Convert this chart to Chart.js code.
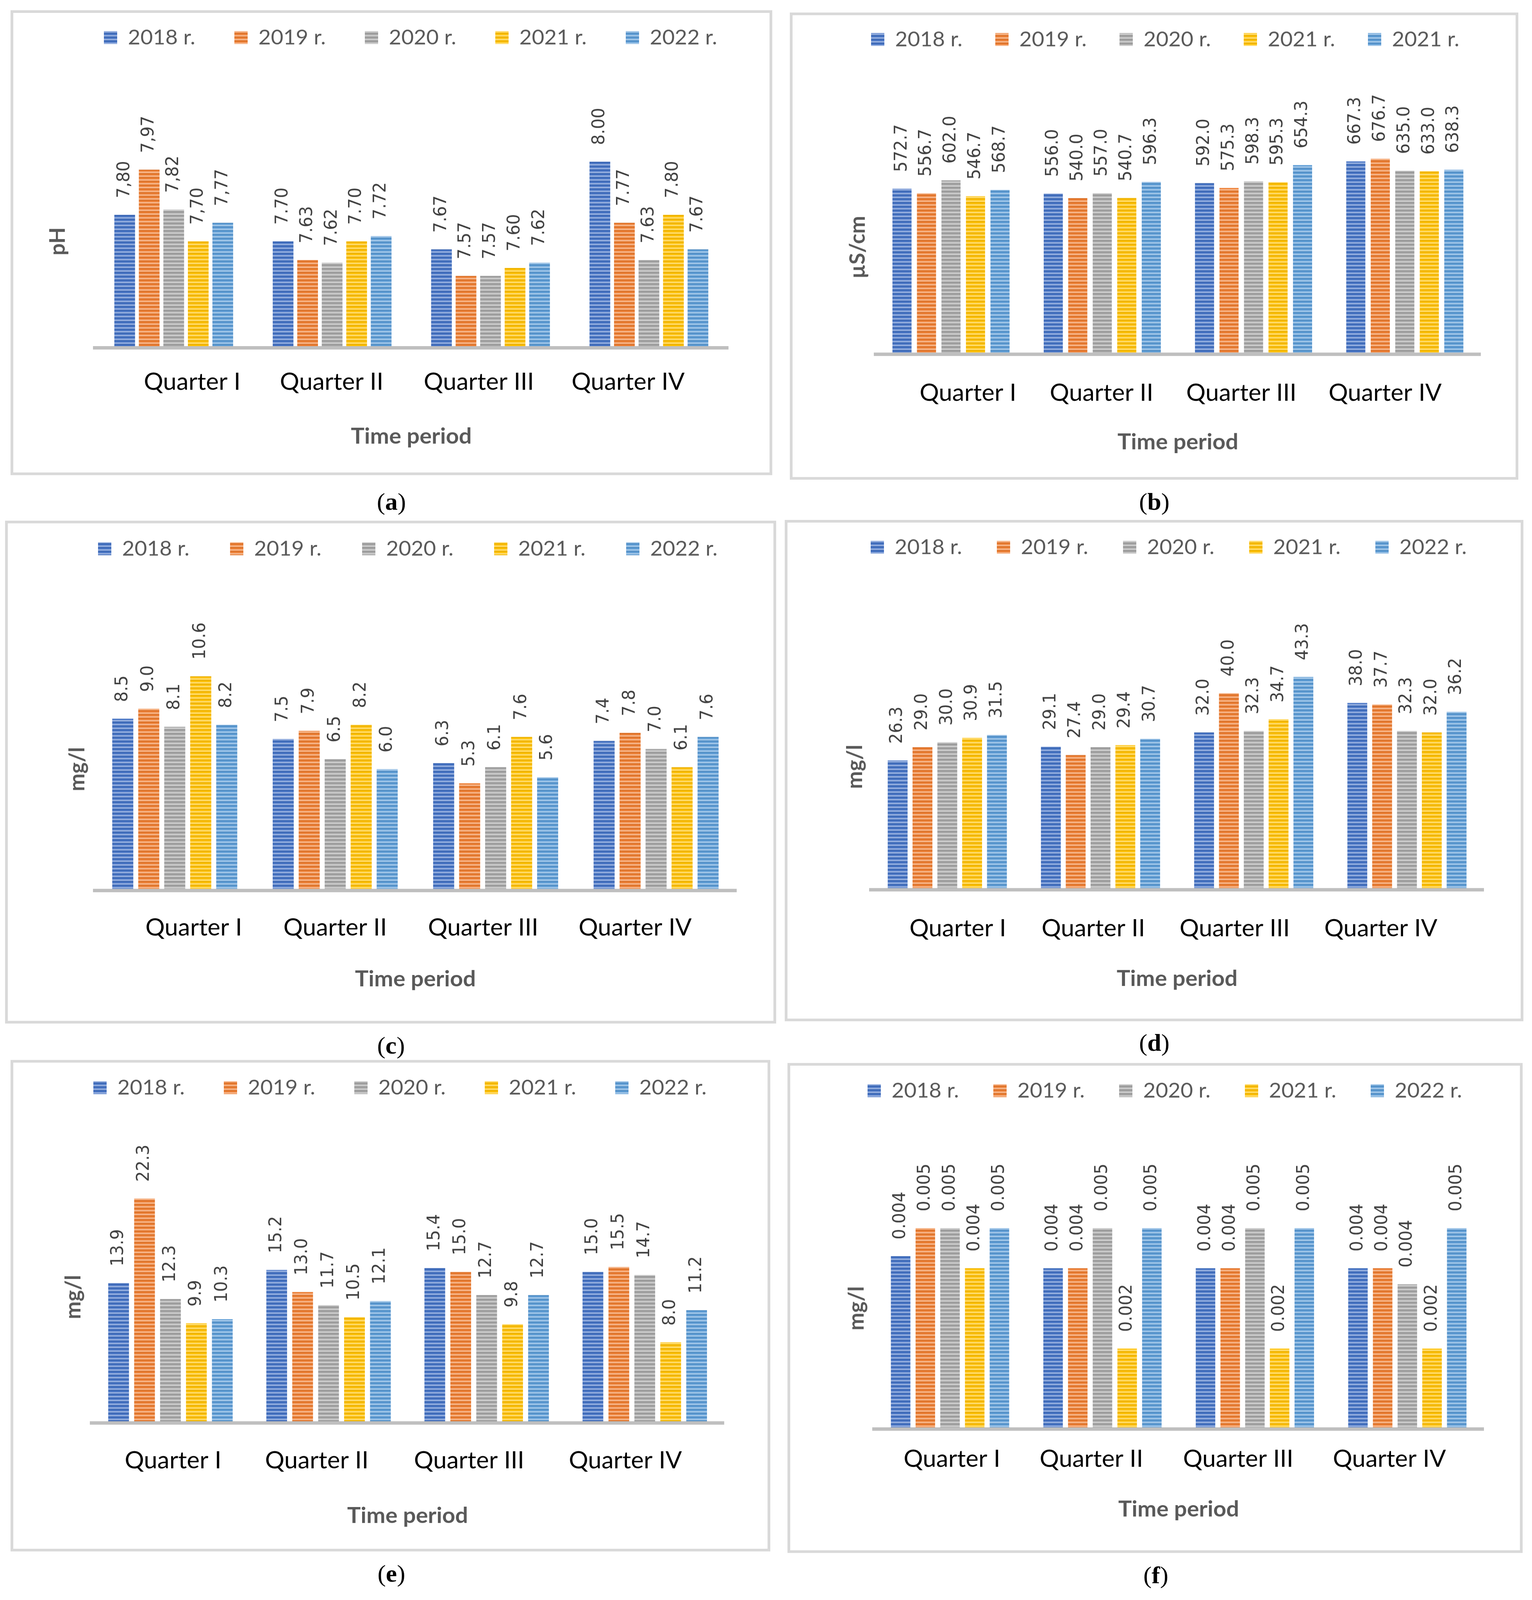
<!DOCTYPE html>
<html>
<head>
<meta charset="utf-8">
<script src="https://cdn.jsdelivr.net/npm/chart.js@4.4.1/dist/chart.umd.min.js"></script>
<style>
  html, body { margin: 0; padding: 0; background: #fff; overflow: hidden; }
  #page { position: relative; width: 3922px; height: 4216px; overflow: hidden; transform-origin: 0 0; }
  .box { position: absolute; box-sizing: border-box; border: 7px solid #d9d9d9; }
  canvas { position: absolute; }
  .cap { position: absolute; font-family: 'Liberation Serif', 'DejaVu Serif', serif; font-size: 64px;
         color: #000; transform: translate(-50%, -50%); white-space: nowrap; }
</style>
</head>
<body>
<div id="page"></div>
<script>
// categories and legend labels
const quarters = ['Quarter I', 'Quarter II', 'Quarter III', 'Quarter IV'];
const years = ['2018 r.', '2019 r.', '2020 r.', '2021 r.', '2022 r.'];
const yearsEC = ['2018 r.', '2019 r.', '2020 r.', '2021 r.', '2021 r.'];

// (a) pH
const pH2018 = [7.80, 7.70, 7.67, 8.00];
const pH2019 = [7.97, 7.63, 7.57, 7.77];
const pH2020 = [7.82, 7.62, 7.57, 7.63];
const pH2021 = [7.70, 7.70, 7.60, 7.80];
const pH2022 = [7.77, 7.72, 7.62, 7.67];
const pHDecimalMark = [',', '.', '.', '.'];

// (b) conductivity, µS/cm
const ec2018 = [572.7, 556.0, 592.0, 667.3];
const ec2019 = [556.7, 540.0, 575.3, 676.7];
const ec2020 = [602.0, 557.0, 598.3, 635.0];
const ec2021 = [546.7, 540.7, 595.3, 633.0];
const ec2022 = [568.7, 596.3, 654.3, 638.3];

// (c) mg/l
const c2018 = [8.5, 7.5, 6.3, 7.4];
const c2019 = [9.0, 7.9, 5.3, 7.8];
const c2020 = [8.1, 6.5, 6.1, 7.0];
const c2021 = [10.6, 8.2, 7.6, 6.1];
const c2022 = [8.2, 6.0, 5.6, 7.6];

// (d) mg/l
const d2018 = [26.3, 29.1, 32.0, 38.0];
const d2019 = [29.0, 27.4, 40.0, 37.7];
const d2020 = [30.0, 29.0, 32.3, 32.3];
const d2021 = [30.9, 29.4, 34.7, 32.0];
const d2022 = [31.5, 30.7, 43.3, 36.2];

// (e) mg/l
const e2018 = [13.9, 15.2, 15.4, 15.0];
const e2019 = [22.3, 13.0, 15.0, 15.5];
const e2020 = [12.3, 11.7, 12.7, 14.7];
const e2021 = [9.9, 10.5, 9.8, 8.0];
const e2022 = [10.3, 12.1, 12.7, 11.2];

// (f) mg/l
const f2018 = [0.0043, 0.004, 0.004, 0.004];
const f2019 = [0.005, 0.004, 0.004, 0.004];
const f2020 = [0.005, 0.005, 0.005, 0.0036];
const f2021 = [0.004, 0.002, 0.002, 0.002];
const f2022 = [0.005, 0.005, 0.005, 0.005];

const colors = ['#4472c4', '#ed7d31', '#a5a5a5', '#ffc000', '#5b9bd5'];

// layout of each panel, in page pixels
const panels = [
  { id: 'a', unit: 'pH', labels: years, series: [pH2018, pH2019, pH2020, pH2021, pH2022], decimals: 2, marks: pHDecimalMark,
    min: 7.3, max: 8.1, ppu: 700, box: [27, 27, 1977, 1252], plot: [242, 1864, 916],
    legendX: 1051, legendY: 99, legendGap: 100, unitX: 148, tickY: 1007, titleY: 1150, cat: 0.774, bar: 0.845, cap: [1002, 1322],
    labelX: [492, 849, 1226, 1608] },
  { id: 'b', unit: 'µS/cm', labels: yearsEC, series: [ec2018, ec2019, ec2020, ec2021, ec2022], decimals: 1,
    min: 0, max: 740, ppu: 0.761, box: [2022, 33, 3887, 1264], plot: [2241, 3790, 933],
    legendX: 2983, legendY: 104, legendGap: 84, unitX: 2196, tickY: 1036, titleY: 1165, cat: 0.81, bar: 0.78, cap: [2955, 1322],
    labelX: [2478, 2820, 3178, 3546] },
  { id: 'c', unit: 'mg/l', labels: years, series: [c2018, c2019, c2020, c2021, c2022], decimals: 1,
    min: 0, max: 12, ppu: 53.2, box: [13, 1372, 1987, 2697], plot: [242, 1885, 2346],
    legendX: 1044, legendY: 1446, legendGap: 104, unitX: 198, tickY: 2445, titleY: 2580, cat: 0.81, bar: 0.81, cap: [1001, 2755],
    labelX: [496, 858, 1237, 1626] },
  { id: 'd', unit: 'mg/l', labels: years, series: [d2018, d2019, d2020, d2021, d2022], decimals: 1,
    min: 0, max: 50, ppu: 12.94, box: [2009, 1370, 3900, 2691], plot: [2229, 3798, 2344],
    legendX: 2992, legendY: 1442, legendGap: 89, unitX: 2189, tickY: 2447, titleY: 2579, cat: 0.81, bar: 0.8, cap: [2955, 2748],
    labelX: [2452, 2799, 3161, 3535] },
  { id: 'e', unit: 'mg/l', labels: years, series: [e2018, e2019, e2020, e2021, e2022], decimals: 1,
    min: 0, max: 25, ppu: 26.5, box: [27, 2793, 1972, 4088], plot: [234, 1853, 3749],
    legendX: 1024, legendY: 2866, legendGap: 100, unitX: 188, tickY: 3849, titleY: 3994, cat: 0.82, bar: 0.8, cap: [1002, 4147],
    labelX: [443, 811, 1201, 1601] },
  { id: 'f', unit: 'mg/l', labels: years, series: [f2018, f2019, f2020, f2021, f2022], decimals: 3,
    min: 0, max: 0.006, ppu: 105800, box: [2016, 2801, 3898, 4092], plot: [2237, 3798, 3765],
    legendX: 2982, legendY: 2874, legendGap: 88, unitX: 2193, tickY: 3845, titleY: 3977, cat: 0.81, bar: 0.79, cap: [2959, 4151],
    labelX: [2437, 2794, 3170, 3557] },
];

const HEAD = 150;          // canvas reaches this far above the frame
const LEGEND_FONT = 55;
const UNIT_FONT = 56;
const TICK_FONT = 62;
const XTITLE_FONT = 58;

Chart.defaults.font.family = 'Lato, "Open Sans", sans-serif';

function mix(hex, target, t) {
  const n = parseInt(hex.slice(1), 16);
  const r = (n >> 16) & 255, g = (n >> 8) & 255, b = n & 255;
  const m = (v) => Math.round(v + (target - v) * t);
  return `rgb(${m(r)},${m(g)},${m(b)})`;
}

// horizontal stripe fill like the Excel bars
function stripes(color) {
  const c = document.createElement('canvas');
  c.width = 4; c.height = 10;
  const x = c.getContext('2d');
  x.fillStyle = color; x.fillRect(0, 0, 4, 10);
  x.fillStyle = mix(color, 0, 0.1); x.fillRect(0, 0, 4, 2);
  x.fillStyle = mix(color, 255, 0.42); x.fillRect(0, 5, 4, 4);
  return x.createPattern(c, 'repeat');
}
const fills = colors.map(stripes);

const valueLabels = {
  id: 'valueLabels',
  afterDatasetsDraw(chart, args, opts) {
    const { ctx } = chart;
    ctx.save();
    ctx.font = `${opts.size}px "DejaVu Sans"`;
    ctx.fillStyle = '#404040';
    ctx.textAlign = 'left';
    ctx.textBaseline = 'middle';
    chart.data.datasets.forEach((ds, i) => {
      chart.getDatasetMeta(i).data.forEach((bar, j) => {
        let txt = ds.data[j].toFixed(opts.decimals);
        if (opts.marks) txt = txt.replace('.', opts.marks[j]);
        ctx.save();
        ctx.translate(bar.x, bar.y - opts.gap);
        ctx.rotate(-Math.PI / 2);
        ctx.fillText(txt, 0, 0);
        ctx.restore();
      });
    });
    ctx.restore();
  }
};

// legend on one row over the plot, with room between it and the bars
const legendSpace = {
  id: 'legendSpace',
  beforeLayout(chart, args, opts) {
    const lg = chart.legend;
    if (lg && !lg._spaced) {
      const fit = lg.fit;
      lg.fit = function () {
        const w = this.maxWidth;
        this.maxWidth = w + 1000;
        fit.call(this);
        this.maxWidth = w;
        this.width = w;
        this.height = opts.height;
      };
      lg._spaced = true;
    }
  },
  afterLayout(chart, args, opts) {
    const lg = chart.legend;
    if (!lg) return;
    lg.left = opts.center - 1500;
    lg.right = opts.center + 1500;
    lg.width = 3000;
  }
};

const page = document.getElementById('page');

// the photo may be shorter than the page: keep the whole figure in view
const vh = window.innerHeight, vw = window.innerWidth;
const sx = vw > 1000 && vw < 3922 ? vw / 3922 : 1;
const sy = vh > 1000 && vh < 4216 ? vh / 4216 : 1;
if (sx !== 1 || sy !== 1) page.style.transform = `scale(${sx}, ${sy})`;

panels.forEach((p) => {
  const [bl, bt, br, bb] = p.box;

  const frame = document.createElement('div');
  frame.className = 'box';
  Object.assign(frame.style, { left: bl + 'px', top: bt + 'px', width: (br - bl) + 'px', height: (bb - bt) + 'px' });
  page.appendChild(frame);

  const cap = document.createElement('div');
  cap.className = 'cap';
  cap.innerHTML = `(<b>${p.id}</b>)`;
  Object.assign(cap.style, { left: p.cap[0] + 'px', top: p.cap[1] + 'px' });
  page.appendChild(cap);

  const cl = bl, ct = bt - HEAD, cw = br - bl, ch = bb - ct;
  const cv = document.createElement('canvas');
  cv.width = cw; cv.height = ch;
  Object.assign(cv.style, { left: cl + 'px', top: ct + 'px', width: cw + 'px', height: ch + 'px' });
  page.appendChild(cv);

  const left = p.plot[0] - cl, right = p.plot[1] - cl, bottom = p.plot[2] - ct;
  const top = bottom - (p.max - p.min) * p.ppu;

  const padT = (p.legendY - ct) - p.legendGap - LEGEND_FONT / 2;
  const legendH = top - padT;

  const padL = 10;
  const unitLH = UNIT_FONT * 1.2;
  const unitPadTop = (p.unitX - cl) - padL - unitLH / 2;
  const unitPadBottom = left - padL - unitLH - unitPadTop;

  const tickLH = TICK_FONT * 1.2, titleLH = XTITLE_FONT * 1.2;
  const tickPad = (p.tickY - ct - bottom) - tickLH / 2;
  const titlePadTop = (p.titleY - ct - bottom) - titleLH / 2 - tickLH - 2 * tickPad;
  const axisH = titleLH + titlePadTop + tickLH + 2 * tickPad;
  const padB = ch - bottom - axisH;
  const padR = cw - right;

  // where the quarter names sit, in category units along the axis
  const span = p.plot[1] - p.plot[0];
  const labelPos = p.labelX.map((x) => (x - p.plot[0]) / span * quarters.length);

  new Chart(cv, {
    type: 'bar',
    data: {
      labels: quarters,
      datasets: p.series.map((data, i) => ({
        label: p.labels[i],
        data,
        xAxisID: 'x',
        yAxisID: 'y',
        backgroundColor: fills[i],
        borderWidth: 0,
        categoryPercentage: p.cat,
        barPercentage: p.bar,
      })),
    },
    options: {
      responsive: false,
      devicePixelRatio: 1,
      animation: false,
      events: [],
      layout: { padding: { top: padT, left: padL, right: padR, bottom: padB } },
      plugins: {
        tooltip: { enabled: false },
        legend: {
          position: 'top',
          fullSize: false,
          labels: {
            boxWidth: 34,
            boxHeight: 34,
            padding: p.legendGap,
            color: '#595959',
            font: { size: LEGEND_FONT },
          },
        },
        legendSpace: { height: legendH, center: p.legendX - cl },
        valueLabels: { size: 44, gap: 44, decimals: p.decimals, marks: p.marks },
      },
      scales: {
        x: {
          weight: 0,
          ticks: { display: false },
          grid: { display: false, drawTicks: false },
          border: { display: true, color: '#bfbfbf', width: 9, z: 1 },
        },
        quarter: {
          type: 'linear',
          axis: 'x',
          position: 'bottom',
          weight: 1,
          min: 0,
          max: quarters.length,
          offset: false,
          afterBuildTicks: (axis) => { axis.ticks = labelPos.map((value) => ({ value })); },
          ticks: {
            color: '#000', font: { size: TICK_FONT, lineHeight: 1.2 }, padding: tickPad,
            maxRotation: 0, autoSkip: false,
            callback: (value, index) => quarters[index],
          },
          grid: { display: false, drawTicks: false },
          border: { display: false },
          title: {
            display: true, text: 'Time period', color: '#595959',
            font: { size: XTITLE_FONT, weight: 'bold', lineHeight: 1.2 },
            padding: { top: titlePadTop, bottom: 0 },
          },
        },
        y: {
          min: p.min,
          max: p.max,
          ticks: { display: false },
          grid: { display: false, drawTicks: false },
          border: { display: false },
          title: {
            display: true, text: p.unit, color: '#595959',
            font: { size: UNIT_FONT, weight: 'bold', lineHeight: 1.2 },
            padding: { top: unitPadTop, bottom: unitPadBottom },
          },
        },
      },
    },
    plugins: [valueLabels, legendSpace],
  });
});
</script>
</body>
</html>
